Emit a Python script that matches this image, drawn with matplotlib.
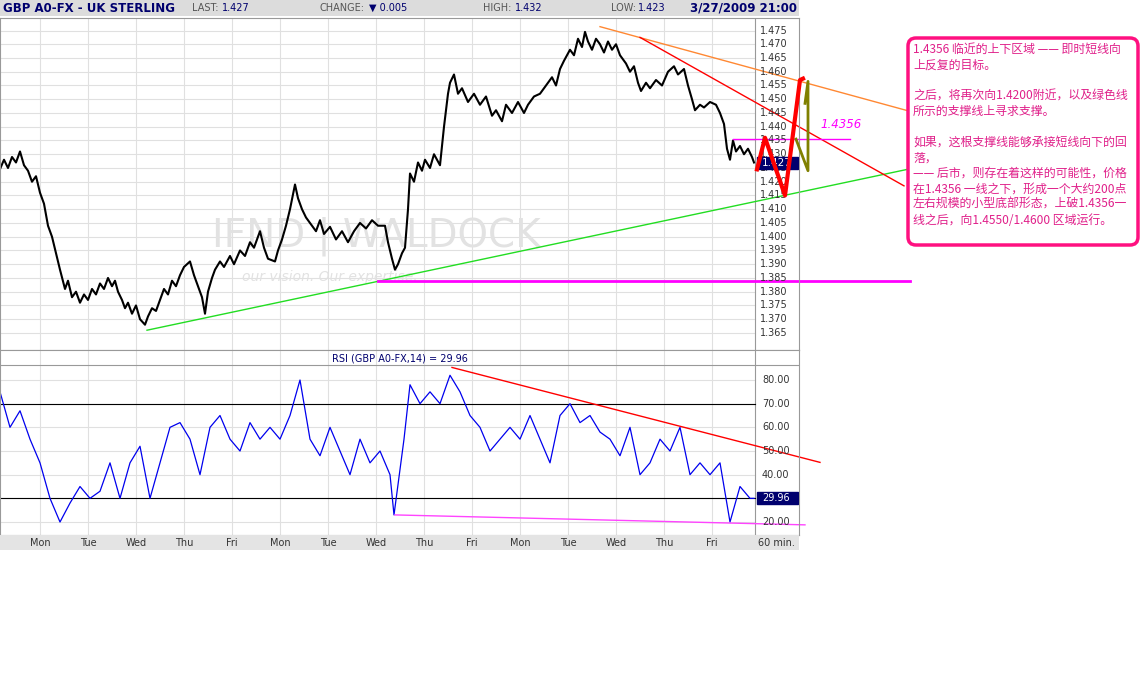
import matplotlib.pyplot as plt
from matplotlib.patches import FancyBboxPatch, Rectangle
import numpy as np

plt.rcParams['font.family'] = ['DejaVu Sans']

# --- data (time in hours from start of chart) ---
price_pts = [
    (0, 1.4246), (2, 1.428), (4, 1.425), (6, 1.429), (8, 1.427), (10, 1.431), (12, 1.426),
    (14, 1.424), (16, 1.420), (18, 1.422), (20, 1.416), (22, 1.412), (24, 1.404), (26, 1.400),
    (28, 1.394), (30, 1.388), (32.5, 1.381), (34, 1.384), (36, 1.378), (38, 1.380), (40, 1.376),
    (42, 1.379), (44, 1.377), (46, 1.381), (48, 1.379), (50, 1.383), (52, 1.381), (54, 1.385),
    (56, 1.382), (57.5, 1.384), (59, 1.380), (61, 1.377), (62.5, 1.374), (64, 1.376), (66, 1.372),
    (68, 1.375), (70, 1.370), (72.5, 1.368), (74, 1.371), (76, 1.374), (78, 1.373), (80, 1.377),
    (82, 1.381), (84, 1.379), (86, 1.384), (88, 1.382), (90, 1.386), (92, 1.389), (95, 1.391),
    (97, 1.386), (99, 1.382), (101, 1.378), (102.5, 1.372), (104, 1.380), (106, 1.385),
    (107.5, 1.388), (110, 1.391), (112, 1.389), (115, 1.393), (117, 1.390), (120, 1.395),
    (122.5, 1.393), (125, 1.398), (127, 1.396), (130, 1.402), (132, 1.396), (134, 1.392),
    (137.5, 1.391), (139, 1.395), (141, 1.399), (143, 1.404), (145, 1.410), (147.5, 1.419),
    (149, 1.414), (151, 1.410), (153, 1.407), (155, 1.405), (158, 1.402), (160, 1.406),
    (162, 1.401), (165, 1.4036), (168, 1.399), (171, 1.402), (174, 1.398), (177, 1.402),
    (180, 1.405), (183, 1.403), (186, 1.406), (189, 1.404), (192.5, 1.404), (194, 1.398),
    (196, 1.392), (197.5, 1.388), (199, 1.390), (201, 1.394), (202.5, 1.396), (204, 1.410),
    (205, 1.423), (207, 1.420), (209, 1.427), (211, 1.424), (212.5, 1.428), (215, 1.425),
    (217, 1.430), (220, 1.426), (222, 1.440), (224, 1.452), (225, 1.456), (227, 1.459),
    (229, 1.452), (231, 1.454), (234, 1.449), (237, 1.452), (240, 1.448), (243, 1.451),
    (246, 1.444), (248, 1.446), (251, 1.442), (253, 1.448), (256, 1.445), (259, 1.449),
    (262, 1.445), (264, 1.448), (267, 1.451), (270, 1.452), (273, 1.455), (276, 1.458),
    (278, 1.455), (280, 1.461), (282, 1.464), (285, 1.468), (287, 1.466), (289, 1.472),
    (291, 1.469), (292.5, 1.4745), (294, 1.471), (296, 1.468), (298, 1.472), (300, 1.470),
    (302, 1.467), (304, 1.471), (306, 1.468), (308, 1.470), (310, 1.466), (313, 1.463),
    (315, 1.460), (317, 1.462), (319, 1.456), (320.5, 1.453), (323, 1.456), (325, 1.454),
    (328, 1.457), (331, 1.455), (334, 1.460), (337, 1.462), (339, 1.459), (342, 1.461),
    (344, 1.455), (346, 1.450), (347.5, 1.446), (350, 1.448), (352, 1.447), (355, 1.449),
    (358, 1.448), (360, 1.445), (362, 1.441), (363.5, 1.432), (365, 1.428), (366.5, 1.435),
    (368, 1.431), (370, 1.433), (372, 1.430), (374, 1.432), (376, 1.429), (377, 1.427),
]
price_t = [p[0] for p in price_pts]
price = [p[1] for p in price_pts]

rsi_t = [0, 5, 10, 15, 20, 25, 30, 35, 40, 45, 50, 55, 60, 65, 70, 75, 80, 85, 90, 95, 100,
         105, 110, 115, 120, 125, 130, 135, 140, 145, 150, 155, 160, 165, 170, 175, 180, 185,
         190, 195, 197, 202, 205, 210, 215, 220, 225, 230, 235, 240, 245, 250, 255, 260, 265,
         270, 275, 280, 285, 290, 295, 300, 305, 310, 315, 320, 325, 330, 335, 340, 345, 350,
         355, 360, 362, 365, 370, 375, 377]
rsi = [75, 60, 67, 55, 45, 30, 20, 28, 35, 30, 33, 45, 30, 45, 52, 30, 45, 60, 62, 55, 40,
       60, 65, 55, 50, 62, 55, 60, 55, 65, 80, 55, 48, 60, 50, 40, 55, 45, 50, 40, 23, 55,
       78, 70, 75, 70, 82, 75, 65, 60, 50, 55, 60, 55, 65, 55, 45, 65, 70, 62, 65, 58, 55,
       48, 60, 40, 45, 55, 50, 60, 40, 45, 40, 45, 35, 20, 35, 30, 30]

price_ticks = np.round(np.arange(1.365, 1.4751, 0.005), 3)
rsi_ticks = [20, 30, 40, 50, 60, 70, 80]
day_labels = ['Mon', 'Tue', 'Wed', 'Thu', 'Fri'] * 3

W, H = 1141, 676
fig = plt.figure(figsize=(W / 100, H / 100), dpi=100)


def box(x0, y0, x1, y1):
    return [x0 / W, 1 - y1 / H, (x1 - x0) / W, (y1 - y0) / H]


navy = '#00006e'
ytxt = '#333333'

# header strip
hdr = fig.add_axes(box(0, 0, 799, 16))
hdr.set_facecolor('#dcdcdc')
hdr.set_xticks([]); hdr.set_yticks([])
for s in hdr.spines.values():
    s.set_visible(False)
hdr.text(0.004, 0.5, 'GBP A0-FX - UK STERLING', color=navy, weight='bold', fontsize=8.5, va='center')
hdr.text(0.24, 0.5, 'LAST:', color='#555555', fontsize=7, va='center')
hdr.text(0.278, 0.5, '1.427', color=navy, fontsize=7, va='center')
hdr.text(0.40, 0.5, 'CHANGE:', color='#555555', fontsize=7, va='center')
hdr.text(0.462, 0.5, '\u25bc 0.005', color=navy, fontsize=7, va='center')
hdr.text(0.605, 0.5, 'HIGH:', color='#555555', fontsize=7, va='center')
hdr.text(0.644, 0.5, '1.432', color=navy, fontsize=7, va='center')
hdr.text(0.765, 0.5, 'LOW:', color='#555555', fontsize=7, va='center')
hdr.text(0.798, 0.5, '1.423', color=navy, fontsize=7, va='center')
hdr.text(0.997, 0.5, '3/27/2009 21:00', color=navy, weight='bold', fontsize=8.5, va='center', ha='right')

# price panel
ax = fig.add_axes(box(0, 18, 799, 350))
ax.set_xlim(0, 399.5)
ax.set_ylim(1.475 - 332 * 0.00035, 1.475 + 13 * 0.00035)
ax.set_xticks([]); ax.set_yticks([])
for s in ax.spines.values():
    s.set_color('#999999')
for v in price_ticks:
    ax.plot([0, 377.5], [v, v], color='#e0e0e0', lw=0.8, zorder=0)
    ax.text(380, v, f'{v:.3f}', fontsize=7, va='center', color=ytxt)
for k in range(15):
    ax.axvline(20 + 24 * k, color='#e0e0e0', lw=0.8, zorder=0)
ax.axvline(377.5, color='#999999', lw=0.8)
ax.text(188, 1.4000, 'IFND | WALDOCK', fontsize=28, color='#e2e2e2', ha='center', va='center', zorder=0)
ax.text(165, 1.3855, 'our vision. Our expertise.', fontsize=10, style='italic', color='#e2e2e2',
        ha='center', va='center', zorder=0)
ax.plot(price_t, price, color='black', lw=1.5)

# annotation lines
ax.plot([73.5, 455], [1.366, 1.4247], color='#22dd22', lw=1, clip_on=False)
ax.plot([300, 455], [1.4764, 1.4456], color='#ff8833', lw=1, clip_on=False)
ax.plot([320, 452], [1.4725, 1.4185], color='red', lw=1, clip_on=False)
ax.plot([189, 455], [1.3840, 1.3840], color='#ff00ff', lw=2, clip_on=False)
ax.plot([366.5, 425], [1.4356, 1.4356], color='#ff00ff', lw=1, clip_on=False)
ax.text(410, 1.4395, '1.4356', color='#ff00ff', style='italic', fontsize=8.5, clip_on=False)
ax.plot([378.5, 382.5, 392.5, 400, 401.5], [1.4245, 1.4360, 1.4150, 1.4570, 1.4575],
        color='red', lw=3, clip_on=False, zorder=5)
ax.plot([398, 404, 404, 402.5], [1.4355, 1.424, 1.4565, 1.4485], color='#808000', lw=2,
        clip_on=False, zorder=5)
ax.add_patch(Rectangle((378.5, 1.4245), 20.5, 0.0045, color=navy, zorder=3))
ax.text(381, 1.4268, '1.427', color='white', fontsize=7.5, va='center', zorder=4)

# RSI panel
rs = fig.add_axes(box(0, 350, 799, 535))
rs.set_xlim(0, 399.5)
rs.set_ylim(80 - 155 / 2.367, 80 + 30 / 2.367)
rs.set_xticks([]); rs.set_yticks([])
for s in rs.spines.values():
    s.set_color('#999999')
for v in rsi_ticks:
    rs.plot([0, 377.5], [v, v], color='#e0e0e0', lw=0.8, zorder=0)
    rs.text(381, v, f'{v:.2f}', fontsize=7, va='center', color=ytxt)
for k in range(15):
    rs.axvline(20 + 24 * k, color='#e0e0e0', lw=0.8, zorder=0)
rs.axvline(377.5, color='#999999', lw=0.8)
rs.axhline(86.3, color='#999999', lw=0.8)
rs.plot([0, 377.5], [70, 70], color='black', lw=0.8)
rs.plot([0, 377.5], [30, 30], color='black', lw=0.8)
rs.text(0.5, 0.955, 'RSI (GBP A0-FX,14) = 29.96', transform=rs.transAxes, ha='center', va='center',
        fontsize=7, color=navy)
rs.plot(rsi_t, rsi, color='#0000ee', lw=0.9)
rs.plot([226, 410], [85.3, 45.2], color='red', lw=1, clip_on=False)
rs.plot([197.5, 402.5], [23, 18.8], color='#ff44ff', lw=1, clip_on=False)
rs.add_patch(Rectangle((378.5, 27.5), 20.5, 5, color=navy, zorder=3))
rs.text(381, 30, '29.96', color='white', fontsize=7, va='center', zorder=4)

# day strip
ds = fig.add_axes(box(0, 535, 799, 550))
ds.set_facecolor('#e4e4e4')
ds.set_xlim(0, 399.5); ds.set_ylim(0, 1)
ds.set_xticks([]); ds.set_yticks([])
for s in ds.spines.values():
    s.set_visible(False)
for k, lab in enumerate(day_labels):
    ds.text(20 + 24 * k, 0.45, lab, fontsize=7, ha='center', va='center', color=ytxt)
ds.text(388, 0.45, '60 min.', fontsize=7, ha='center', va='center', color=ytxt)

# comment box
ov = fig.add_axes([0, 0, 1, 1])
ov.set_xlim(0, W); ov.set_ylim(H, 0)
ov.axis('off')
ov.add_patch(FancyBboxPatch((908, 38), 230, 207, boxstyle='round,pad=0,rounding_size=8',
                            fc='white', ec='#ff1080', lw=2.5))
note = ('1.4356 临近的上下区域 —— 即时短线向\n上反复的目标。\n\n'
        '之后，将再次向1.4200附近，以及绿色线\n所示的支撑线上寻求支撑。\n\n'
        '如果，这根支撑线能够承接短线向下的回\n落，\n'
        '—— 后市，则存在着这样的可能性，价格\n在1.4356 一线之下，形成一个大约200点\n'
        '左右规模的小型底部形态，上破1.4356一\n线之后，向1.4550/1.4600 区域运行。')
ov.text(913, 43, note, color='#e0208a', fontsize=8.6, va='top', linespacing=1.25,
        family=['Noto Sans CJK SC', 'DejaVu Sans'])

fig.savefig('out.png', dpi=100, facecolor='white')
